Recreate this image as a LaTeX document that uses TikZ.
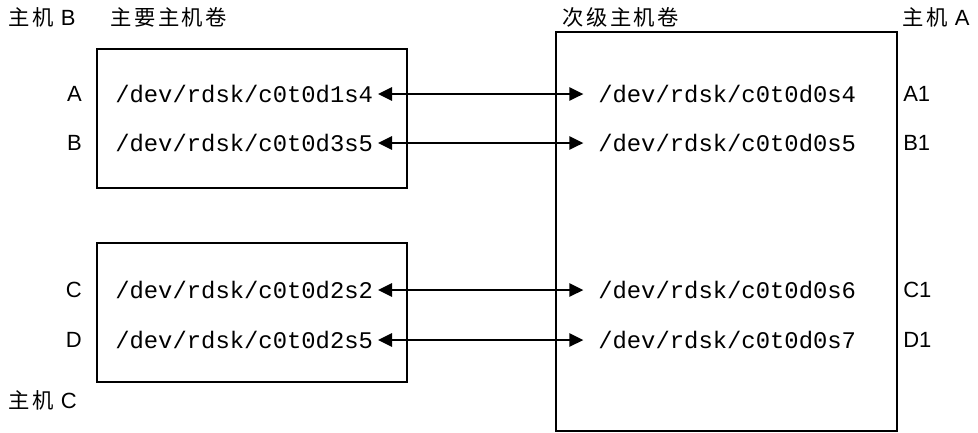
\documentclass[tikz,border=0pt]{standalone}
\usepackage{fontspec}
\setmainfont{Liberation Sans}
\setmonofont{Liberation Mono}
\newfontfamily\cjk[LetterSpace=12]{Noto Sans CJK SC}
\usetikzlibrary{arrows.meta,fit}
\begin{document}
\begin{tikzpicture}[x=0.75pt,y=-0.75pt,
  lbl/.style={font=\fontsize{16.5}{18}\selectfont, inner sep=0pt},
  cjklbl/.style={font=\fontsize{16}{18}\cjk, inner sep=0pt, anchor=west},
  dev/.style={font=\fontsize{17.9}{20}\ttfamily, inner sep=0pt},
  vol/.style={draw, line width=1.5pt, inner sep=0pt},
  link/.style={line width=1.5pt, {Triangle[length=10.5pt,width=10pt]}-{Triangle[length=10.5pt,width=10pt]}}]
\useasboundingbox (0,0) rectangle (978,432);

% volume boxes
\coordinate (p1) at (96.7,49);  \coordinate (p2) at (407,188);
\coordinate (q1) at (96.7,243); \coordinate (q2) at (407,382);
\coordinate (r1) at (556,32);   \coordinate (r2) at (897,430.5);
\node[vol, fit=(p1)(p2)] (boxB) {};
\node[vol, fit=(q1)(q2)] (boxC) {};
\node[vol, fit=(r1)(r2)] (boxA) {};

% headings
\node[cjklbl] (hostB) at (8,17) {主机 {\fontspec{Liberation Sans}\fontsize{16.5}{18}\selectfont B}};
\node[cjklbl] (prim) at (110,17) {主要主机卷};
\node[cjklbl] (sec) at (562,17) {次级主机卷};
\node[cjklbl] (hostA) at (902,17) {主机 {\fontspec{Liberation Sans}\fontsize{16.5}{18}\selectfont A}};
\node[cjklbl] (hostC) at (8,400) {主机 {\fontspec{Liberation Sans}\fontsize{16.5}{18}\selectfont C}};

% primary devices
\node[dev, anchor=west] (dA) at (115,94) {/dev/rdsk/c0t0d1s4};
\node[dev, anchor=west] (dB) at (115,143) {/dev/rdsk/c0t0d3s5};
\node[dev, anchor=west] (dC) at (115,290) {/dev/rdsk/c0t0d2s2};
\node[dev, anchor=west] (dD) at (115,340) {/dev/rdsk/c0t0d2s5};

% secondary devices
\node[dev, anchor=west] (sA) at (598,94) {/dev/rdsk/c0t0d0s4};
\node[dev, anchor=west] (sB) at (598,143) {/dev/rdsk/c0t0d0s5};
\node[dev, anchor=west] (sC) at (598,290) {/dev/rdsk/c0t0d0s6};
\node[dev, anchor=west] (sD) at (598,340) {/dev/rdsk/c0t0d0s7};

% row labels
\node[lbl, anchor=east] (lA) at (82,94) {A};
\node[lbl, anchor=east] (lB) at (82,143) {B};
\node[lbl, anchor=east] (lC) at (82,290) {C};
\node[lbl, anchor=east] (lD) at (82,340) {D};
\node[lbl, anchor=west] (lA1) at (903,94) {A1};
\node[lbl, anchor=west] (lB1) at (903,143) {B1};
\node[lbl, anchor=west] (lC1) at (903,290) {C1};
\node[lbl, anchor=west] (lD1) at (903,340) {D1};

% replication links
\foreach \a/\b in {dA/sA,dB/sB,dC/sC,dD/sD}
  \draw[link] ([xshift=3.5pt]\a.east) -- ([xshift=-11pt]\b.west);
\end{tikzpicture}
\end{document}
